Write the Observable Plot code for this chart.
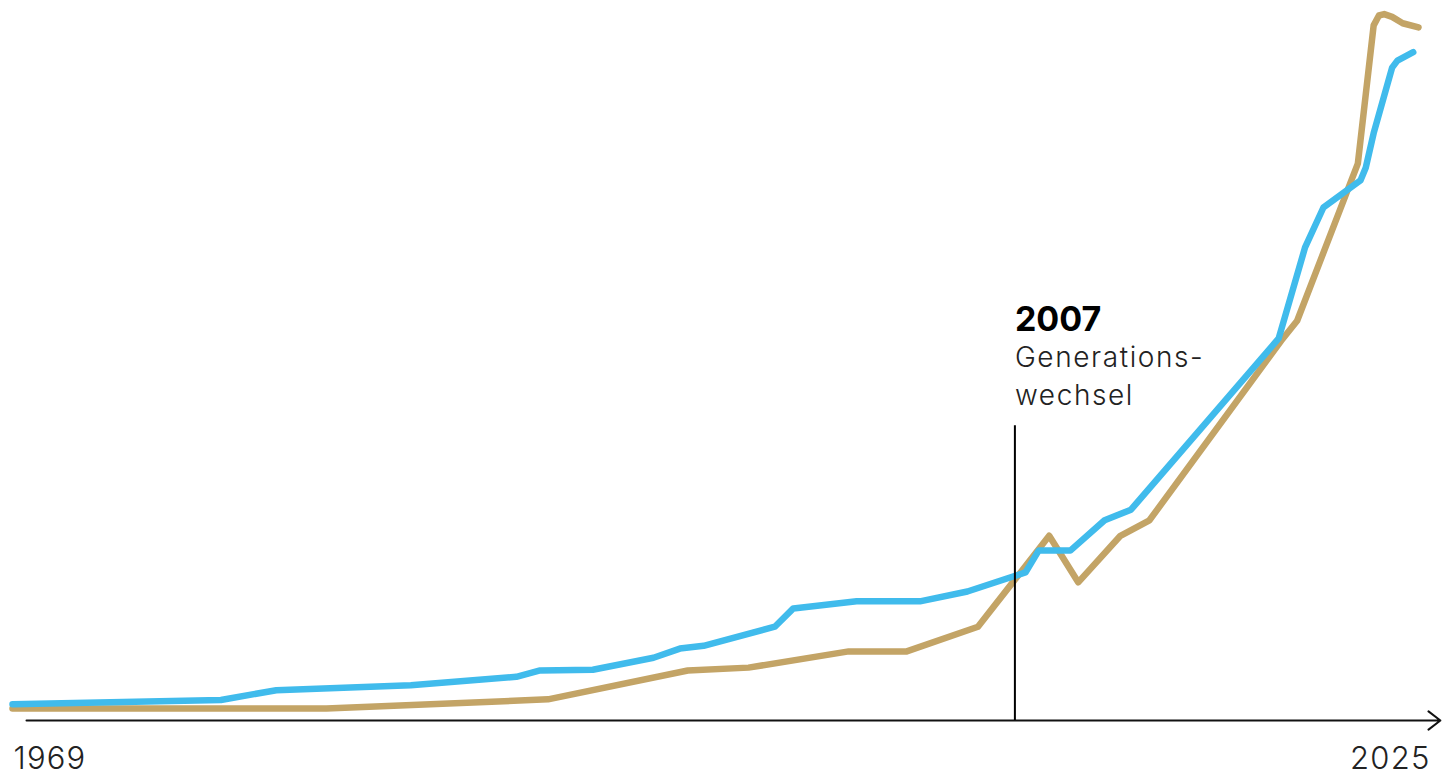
<!DOCTYPE html>
<html>
<head>
<meta charset="utf-8">
<script src="https://cdn.jsdelivr.net/npm/d3@7"></script>
<script src="https://cdn.jsdelivr.net/npm/@observablehq/plot@0.6"></script>
<style>
  html, body { margin: 0; padding: 0; background: #fff; }
  #chart svg { display: block; }
</style>
</head>
<body>
<div id="chart"></div>
<script>
// Blue series
const blueYears  = [1969.0, 1976.9, 1979.0, 1984.1, 1988.1, 1989.0, 1991.0, 1993.3, 1994.3, 1995.2, 1997.9, 1998.6, 2001.0, 2003.4, 2005.2, 2007.4, 2007.9, 2009.1, 2010.4, 2011.4, 2017.0, 2018.0, 2018.7, 2020.1, 2020.3, 2020.6, 2021.3, 2021.5, 2022.1];
const blueValues = [2.3, 2.9, 4.3, 5.0, 6.2, 7.1, 7.2, 8.9, 10.2, 10.6, 13.3, 15.9, 16.9, 16.9, 18.3, 21.0, 24.1, 24.1, 28.4, 29.9, 54.2, 67.1, 72.8, 76.6, 78.4, 83.3, 92.6, 93.6, 94.8];

// Tan series
const tanYears  = [1969.0, 1980.9, 1989.3, 1994.6, 1996.9, 2000.7, 2002.9, 2005.6, 2008.3, 2009.4, 2011.0, 2012.1, 2017.1, 2017.7, 2020.0, 2020.6, 2020.8, 2021.0, 2021.3, 2021.7, 2022.3];
const tanValues = [1.7, 1.7, 3.0, 7.1, 7.5, 9.8, 9.8, 13.3, 26.2, 19.6, 26.2, 28.4, 53.9, 56.7, 79.0, 98.6, 100.0, 100.2, 99.8, 98.9, 98.3];

// Axis
const axisLabels = ["1969", "2025"];
const axisExtent = [1969.53, 2023.13];

// Annotation
const eventYear = 2007;
const eventRuleTop = 41.8;
const eventTitle = "2007";
const eventTitleY = 55.2;
const eventText = "Generations-\nwechsel";
const eventTextY = 44.7;

const blue = blueYears.map((x, i) => ({x, y: blueValues[i]}));
const tan = tanYears.map((x, i) => ({x, y: tanValues[i]}));

const FONT = "Inter, 'Open Sans', Lato, sans-serif";

const chart = Plot.plot({
  width: 1444,
  height: 776,
  marginTop: 15,
  marginBottom: 56,
  marginLeft: 12,
  marginRight: 26,
  style: {fontFamily: FONT, background: "#fff"},
  x: {domain: [1969, 2022.3], axis: null},
  y: {domain: [0, 100], axis: null},
  marks: [
    Plot.arrow([{x1: axisExtent[0], x2: axisExtent[1], y: 0}], {
      x1: "x1", x2: "x2", y1: "y", y2: "y",
      stroke: "#111", strokeWidth: 2, headLength: 11.25, headAngle: 75
    }),
    Plot.line(tan, {x: "x", y: "y", stroke: "#c3a466", strokeWidth: 6.5, strokeLinecap: "round", strokeLinejoin: "round"}),
    Plot.line(blue, {x: "x", y: "y", stroke: "#40bbec", strokeWidth: 6.5, strokeLinecap: "round", strokeLinejoin: "round"}),
    Plot.ruleX([eventYear], {y1: 0, y2: eventRuleTop, stroke: "#000", strokeWidth: 2}),
    Plot.text([eventTitle], {x: eventYear, y: eventTitleY, text: d => d, textAnchor: "start", lineAnchor: "bottom",
      fontSize: 34, fontWeight: 700, fill: "#000"}),
    Plot.text([eventText], {x: eventYear, y: eventTextY, text: d => d, textAnchor: "start", lineAnchor: "bottom",
      fontSize: 28, fontWeight: 300, lineHeight: 1.36, fill: "#222"}),
    Plot.text([axisLabels[0]], {frameAnchor: "bottom-left", text: d => d, textAnchor: "start", lineAnchor: "bottom",
      dy: 48, dx: 1, fontSize: 31, fontWeight: 300, fill: "#222"}),
    Plot.text([axisLabels[1]], {frameAnchor: "bottom-right", text: d => d, textAnchor: "end", lineAnchor: "bottom",
      dy: 48, dx: 12, fontSize: 31, fontWeight: 300, fill: "#222"})
  ]
});
d3.select(chart).selectAll("text")
  .filter(function() { return this.textContent !== eventTitle; })
  .style("letter-spacing", function() { return this.textContent.startsWith("Gen") ? "1.6px" : "1.2px"; });
document.getElementById("chart").appendChild(chart);
</script>
</body>
</html>
